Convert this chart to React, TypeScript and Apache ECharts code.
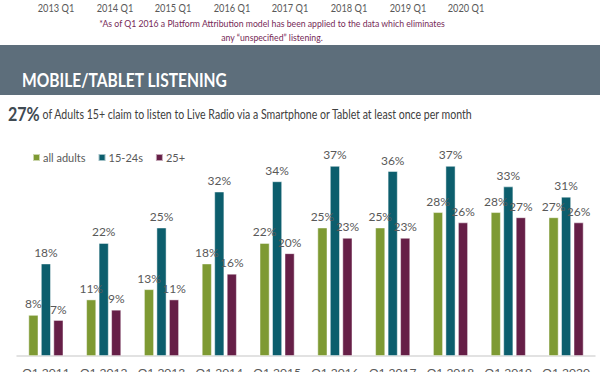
import React, { useEffect, useRef } from "react";
import * as echarts from "echarts";

const categories = ["Q1 2011", "Q1 2012", "Q1 2013", "Q1 2014", "Q1 2015", "Q1 2016", "Q1 2017", "Q1 2018", "Q1 2019", "Q1 2020"];
const allAdults = [8, 11, 13, 18, 22, 25, 25, 28, 28, 27];
const age15to24 = [18, 22, 25, 32, 34, 37, 36, 37, 33, 31];
const age25plus = [7, 9, 11, 16, 20, 23, 23, 26, 27, 26];
const seriesNames = ["all adults", "15-24s", "25+"];
const topTickLabels = ["2013 Q1", "2014 Q1", "2015 Q1", "2016 Q1", "2017 Q1", "2018 Q1", "2019 Q1", "2020 Q1"];
const topTickX = [56, 115, 173, 232, 290, 349, 408, 466];

const FONT = "Lato, 'Noto Sans', sans-serif";
const GRAY = "#595959";
const colors = ["#7e9a33", "#0c5e6d", "#661f47"];

export default function App() {
  const ref = useRef<HTMLDivElement>(null);
  useEffect(() => {
    if (!ref.current) return;
    const chart = echarts.init(ref.current, null, { renderer: "svg" });
    const mkSeries = (name: string, data: number[], color: string) => ({
      name,
      type: "bar",
      data,
      barWidth: 10,
      barGap: "25%",
      itemStyle: { color, borderColor: "rgba(255,255,255,0.6)", borderWidth: 0.8 },
      label: {
        show: true,
        position: "top",
        distance: 5,
        formatter: "{c}%",
        color: GRAY,
        fontSize: 12,
        fontFamily: FONT,
      },
    });
    const graphic: any[] = [
      ...topTickLabels.map((t, i) => ({
        type: "text",
        x: topTickX[i],
        y: 8,
        scaleX: 0.88,
        style: { text: t, fill: GRAY, fontSize: 10.5, fontFamily: FONT, align: "center", verticalAlign: "middle" },
      })),
      {
        type: "text",
        x: 272,
        y: 23,
        scaleX: 0.87,
        style: {
          text: "*As of Q1 2016 a Platform Attribution model has been applied to the data which eliminates",
          fill: "#762a57",
          fontSize: 10,
          fontFamily: FONT,
          align: "center",
          verticalAlign: "middle",
        },
      },
      {
        type: "text",
        x: 272,
        y: 37,
        scaleX: 0.87,
        style: {
          text: "any \u201cunspecified\u201d listening.",
          fill: "#762a57",
          fontSize: 10,
          fontFamily: FONT,
          align: "center",
          verticalAlign: "middle",
        },
      },
      {
        type: "rect",
        shape: { x: 0, y: 45, width: 600, height: 50 },
        style: { fill: "#5d6e7b" },
      },
      {
        type: "text",
        x: 22,
        y: 80,
        scaleX: 0.82,
        style: {
          text: "MOBILE/TABLET LISTENING",
          fill: "#ffffff",
          fontSize: 19,
          fontWeight: "bold",
          fontFamily: FONT,
          verticalAlign: "middle",
        },
      },
      {
        type: "text",
        x: 8,
        y: 114,
        scaleX: 0.845,
        style: {
          text: "{a|27%} {b|of Adults 15+ claim to listen to Live Radio via a Smartphone or Tablet at least once per month}",
          verticalAlign: "middle",
          rich: {
            a: { fontSize: 19, fontWeight: "bold", fill: "#3f4a52", fontFamily: FONT },
            b: { fontSize: 12.5, fill: "#404040", fontFamily: FONT },
          },
        },
      },
    ];
    chart.setOption({
      animation: false,
      backgroundColor: "#ffffff",
      color: colors,
      legend: {
        data: seriesNames,
        left: 27,
        top: 147,
        itemWidth: 7,
        itemHeight: 7,
        itemGap: 12,
        icon: "rect",
        textStyle: { color: GRAY, fontSize: 11, fontFamily: FONT, padding: [0, 0, 0, -2] },
      },
      grid: { left: 17, right: 5, top: 150.5, bottom: 16, containLabel: false, outerBoundsMode: "none" },
      xAxis: {
        type: "category",
        data: categories,
        axisLine: { lineStyle: { color: "#d9d9d9", width: 1.5 } },
        axisTick: { show: false },
        axisLabel: { color: GRAY, fontSize: 12, fontFamily: FONT, margin: 10, interval: 0, hideOverlap: false },
      },
      yAxis: { type: "value", min: 0, max: 40, show: false, splitLine: { show: false } },
      series: [
        mkSeries(seriesNames[0], allAdults, colors[0]),
        mkSeries(seriesNames[1], age15to24, colors[1]),
        mkSeries(seriesNames[2], age25plus, colors[2]),
      ],
      graphic,
    });
    return () => chart.dispose();
  }, []);
  return <div ref={ref} style={{ position: "fixed", left: 0, top: 0, width: 600, height: 372 }} />;
}
